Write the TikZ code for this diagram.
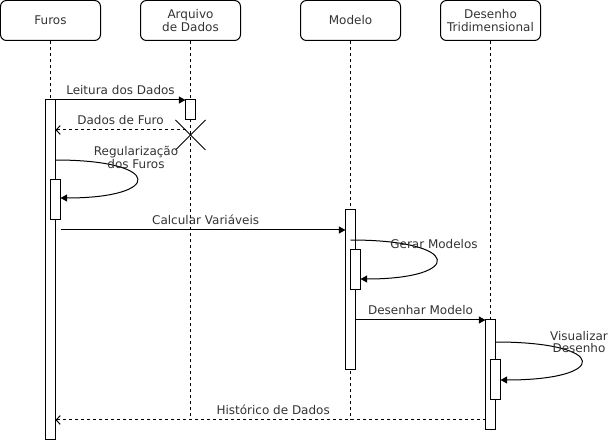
\documentclass[tikz,border=0pt]{standalone}
\usepackage{fontspec}
\setmainfont{DejaVu Sans}
\usetikzlibrary{arrows.meta}

\begin{document}
\begin{tikzpicture}[x=0.75pt, y=-0.75pt, line width=0.75pt,
    every node/.style={font=\fontsize{9}{9.6}\selectfont, text=black!80},
    head/.style={draw, text=black!80, rounded corners=4.5pt, minimum width=75pt, minimum height=30pt, align=center, inner sep=0pt},
    act/.style={draw, fill=white, minimum width=7.5pt, minimum height=#1, inner sep=0pt, outer sep=0pt, anchor=north},
    life/.style={dash pattern=on 2.25pt off 2.25pt},
    msg/.style={-{Triangle[length=5pt,width=5.25pt]}},
    ret/.style={dash pattern=on 2.25pt off 2.25pt, -{Straight Barb[length=3pt,width=6.5pt]}}]
                \useasboundingbox (0,0) rectangle (612,442);

                % Participants
                \node[head] (furos) at (50.5,20.5) {Furos};
                \node[head] (arq) at (190.5,20.5) {Arquivo\\de Dados};
                \node[head] (mod) at (350.5,20.5) {Modelo};
                \node[head] (des) at (490.5,20.5) {Desenho\\Tridimensional};

                % Lifelines
                \coordinate (arqEnd) at (190.5,420);
                \coordinate (modEnd) at (350.5,420);
                \draw[life] (furos.south) -- (50.5,100);
                \draw[life] (arq.south) -- (arqEnd);
                \draw[life] (mod.south) -- (modEnd);
                \draw[life] (des.south) -- (490.5,320);

                % Activations
                \node[act=255pt] (furosA) at (50.5,100) {};
                \node[act=30pt] (furosB) at (55.5,180) {};
                \node[act=15pt] (arqA) at (190.5,100) {};
                \node[act=120pt] (modA) at (350.5,210) {};
                \node[act=30pt] (modB) at (355.5,250) {};
                \node[act=82.5pt] (desA) at (490.5,320) {};
                \node[act=30pt] (desB) at (495.5,360) {};

                % Destruction of Arquivo de Dados
                \coordinate (kill) at (190.5,135);
                \draw ([shift={(-15,-15)}]kill) -- ([shift={(15,15)}]kill);
                \draw ([shift={(-15,15)}]kill) -- ([shift={(15,-15)}]kill);

                % Messages
                \draw[msg] (furosA.north east) -- (arqA.north west) node[midway, above] {Leitura dos Dados};
                \coordinate (r1) at (185.5,130);
                \draw[ret] (r1) -- (r1 -| furosA.east) node[midway, above] {Dados de Furo};
                \coordinate (c1) at (60.5,230);
                \draw[msg] (c1) -- (c1 -| modA.west) node[midway, above, xshift=2pt] {Calcular Variáveis};
                \coordinate (d1) at (355.5,320);
                \draw[msg] (d1) -- (desA.north west) node[midway, above] {Desenhar Modelo};
                \coordinate (h1) at (485.5,420);
                \draw[ret] (h1) -- (h1 -| furosA.east) node[midway, above, xshift=2pt] {Histórico de Dados};

                % Self messages
                \coordinate (f1) at (55.5,160);
                \coordinate (f2) at (60.5,198);
                \draw[msg] (f1) .. controls +(108,0) and +(103,0) .. (f2);
                \node (regLbl) at (136,157.5) [align=center] {Regularização\\dos Furos};
                \coordinate (m1) at (350.5,240);
                \coordinate (m2) at (360.5,279);
                \draw[msg] (m1) .. controls +(113,0) and +(103,0) .. (m2);
                \node (gerLbl) at (434,244) {Gerar Modelos};
                \coordinate (v1) at (495.5,342);
                \coordinate (v2) at (500.5,380);
                \draw[msg] (v1) .. controls +(114,0) and +(109,0) .. (v2);
                \node (visLbl) at (579,342) [align=center] {Visualizar\\Desenho};
            \end{tikzpicture}
\end{document}
